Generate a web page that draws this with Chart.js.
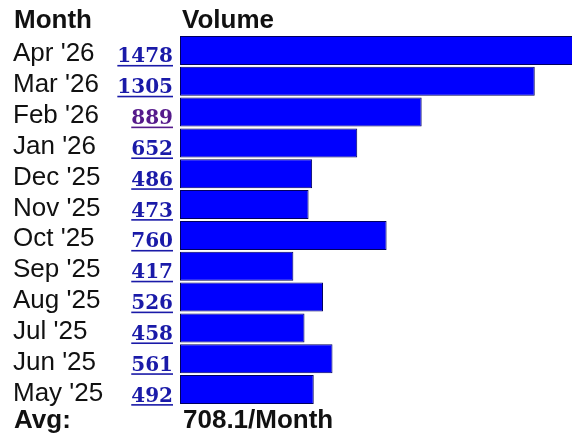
<!DOCTYPE html>
<html>
	<head>
		<meta charset="UTF-8" />
		<title>Monthly Volume</title>
		<script src="https://cdn.jsdelivr.net/npm/chart.js"></script>
		<style>
			body { margin: 0; background: #fff; }
		</style>
	</head>
	<body>
		<canvas id="myChart" width="572" height="437"></canvas>

		<script>
			// data
			const months = ["Apr '26", "Mar '26", "Feb '26", "Jan '26", "Dec '25", "Nov '25",
			                "Oct '25", "Sep '25", "Aug '25", "Jul '25", "Jun '25", "May '25"];
			const volumes = [1478, 1305, 889, 652, 486, 473, 760, 417, 526, 458, 561, 492];
			const visited = ["Feb '26"];
			const headers = ['Month', 'Volume'];
			const avgLabel = 'Avg:';
			const avgValue = '708.1/Month';

			// labels, link numbers, header and footer drawn against the chart's scales
			const tablePlugin = {
			  id: 'tableText',
			  afterDatasetsDraw(chart) {
			    const ctx = chart.ctx;
			    const y = chart.scales.y;
			    const left = chart.chartArea.left;
			    ctx.save();
			    ctx.textBaseline = 'alphabetic';

			    // header
			    ctx.fillStyle = '#111';
			    ctx.font = 'bold 26px "Liberation Sans", Arial, sans-serif';
			    ctx.textAlign = 'left';
			    ctx.fillText(headers[0], 14, 28);
			    ctx.fillText(headers[1], left + 2, 28);

			    months.forEach((m, i) => {
			      const cy = y.getPixelForValue(i);
			      // month label
			      ctx.fillStyle = '#111';
			      ctx.font = '26px "Liberation Sans", Arial, sans-serif';
			      ctx.textAlign = 'left';
			      ctx.fillText(m, 13, cy + 11);

			      // value as link
			      const txt = String(volumes[i]);
			      ctx.font = 'bold 20px "DejaVu Serif", serif';
			      ctx.textAlign = 'right';
			      ctx.fillStyle = visited.includes(m) ? '#551A8B' : '#1a1aa8';
			      ctx.fillText(txt, 173, cy + 12);
			      const w = ctx.measureText(txt).width;
			      ctx.fillRect(173 - w, cy + 14.5, w, 1.6);
			    });

			    // footer
			    ctx.fillStyle = '#111';
			    ctx.font = 'bold 26px "Liberation Sans", Arial, sans-serif';
			    ctx.textAlign = 'left';
			    ctx.fillText(avgLabel, 14, 428);
			    ctx.fillText(avgValue, left + 3, 428);
			    ctx.restore();
			  }
			};

			const ctx = document.getElementById('myChart').getContext('2d');
			new Chart(ctx, {
			  type: 'bar',
			  data: {
			    labels: months,
			    datasets: [{
			      data: volumes,
			      backgroundColor: '#0000ff',
			      borderColor: '#00005e',
			      borderWidth: 1,
			      borderSkipped: false,
			      barPercentage: 0.94,
			      categoryPercentage: 1
			    }]
			  },
			  options: {
			    indexAxis: 'y',
			    responsive: false,
			    animation: false,
			    layout: { padding: { left: 180, top: 35, right: 0, bottom: 32 } },
			    plugins: { legend: { display: false }, tooltip: { enabled: false } },
			    scales: {
			      x: { display: false, min: 0, max: 1442 },
			      y: { display: false }
			    }
			  },
			  plugins: [tablePlugin]
			});
		</script>
	</body>
</html>
